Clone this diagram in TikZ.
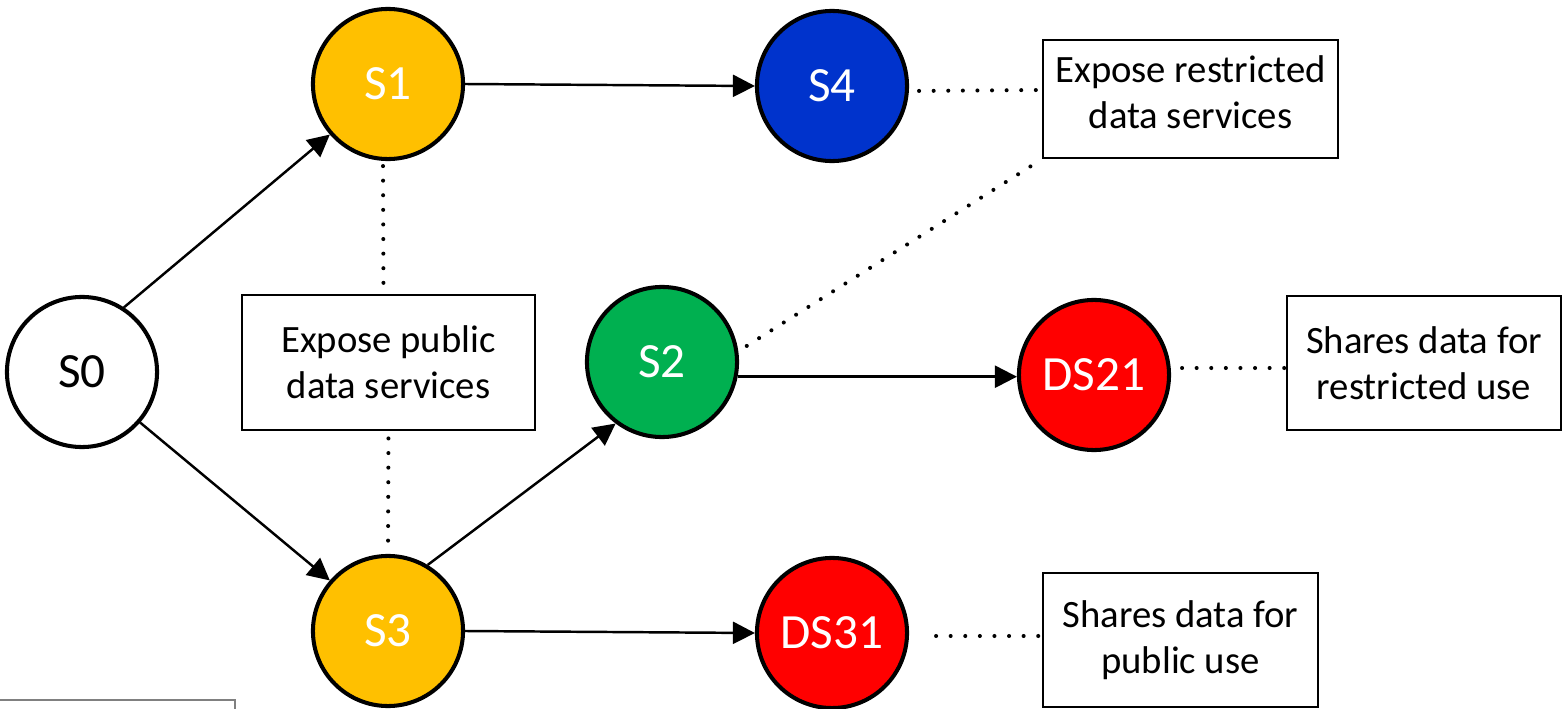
\documentclass[tikz,border=0pt]{standalone}
\usepackage{fontspec}
\setmainfont{Carlito}
\usepackage{tikz}
\usetikzlibrary{arrows.meta,calc}
\definecolor{cPub}{HTML}{FFC000}
\definecolor{cRes}{HTML}{0033CC}
\definecolor{cMid}{HTML}{00B050}
\definecolor{cShr}{HTML}{FF0000}
\tikzset{
  st/.style   = {circle, draw=black, line width=1.15pt, minimum size=1.5cm, inner sep=0pt,
                 font=\fontsize{14}{16}\selectfont, text=white},
  ini/.style  = {st, fill=white, text=black},
  pub/.style  = {st, fill=cPub},
  res/.style  = {st, fill=cRes},
  mid/.style  = {st, fill=cMid},
  shr/.style  = {st, fill=cShr},
  nte/.style  = {draw=black, line width=0.8pt, align=center, inner sep=0pt,
                 font=\fontsize{11}{13}\selectfont},
  ar/.style   = {-{Triangle[length=2.2mm,width=2.2mm]}, line width=0.7pt},
  dts/.style  = {line width=1.15pt, line cap=round, dash pattern=on 0pt off 4.15pt},
}

\begin{document}
\begin{tikzpicture}[x=0.01cm, y=-0.01cm]
  \useasboundingbox (0,0) rectangle (1562,709);

  % ---------------- states ----------------
  \node[ini] (s0) at (82,372) {S0};
  \node[pub] (s1) at (388,84) {S1};
  \node[pub] (s3) at (388,631) {S3};
  \node[mid] (s2) at (662,362) {S2};
  \node[res] (s4) at (832,86) {S4};
  \node[shr] (ds21) at (1094,375) {DS21};
  \node[shr] (ds31) at (832,633) {DS31};

  % ---------------- notes ----------------
  \node[nte, minimum width=2.93cm, minimum height=1.35cm] (pubx) at (388.5,362.5) {Expose public\\data services};
  \node[nte, minimum width=2.95cm, minimum height=1.18cm, text depth=0.14cm] (rex) at (1190.5,99) {Expose restricted\\data services};
  \node[nte, minimum width=2.74cm, minimum height=1.34cm] (srx) at (1424,363) {Shares data for\\restricted use};
  \node[nte, minimum width=2.75cm, minimum height=1.34cm] (spx) at (1180.5,640) {Shares data for\\public use};

  % transitions
  \draw[ar] (s0.57) -- (s1.221);
  \draw[ar] (s0.319) -- (s3.139);
  \draw[ar] (s1.east) -- (s4.west);
  \draw[ar] (s3.59) -- (s2.233);
  \draw[ar] (s3.east) -- (ds31.west);
  \draw[ar] (s2.-11) -- (s2.-11 -| ds21.west);

  % dotted links to the notes
  \draw[dts, shorten <=0.1cm] ([yshift=-0.05cm]s4.east) -- ([yshift=0.09cm]rex.west);
  \draw[dts, shorten <=0.1cm] (s2.8) -- (rex.south west);
  \draw[dts, shorten <=0.05cm, shorten >=0.05cm] ([xshift=-0.05cm]s1.south) -- ([xshift=-0.05cm]pubx.north);
  \draw[dts, shorten <=0.07cm, shorten >=0.09cm] (pubx.south) -- (s3.north);
  \draw[dts, shorten <=0.11cm] ([yshift=0.07cm]ds21.east) -- ([yshift=-0.05cm]srx.west);
  \draw[dts, shorten <=0.27cm] ([yshift=-0.03cm]ds31.east) -- ([yshift=0.04cm]spx.west);

  % edge of a box cut off at the bottom left
  \draw[gray, line width=0.7pt] (0,700) -- (235,700) -- (235,712);
\end{tikzpicture}
\end{document}
